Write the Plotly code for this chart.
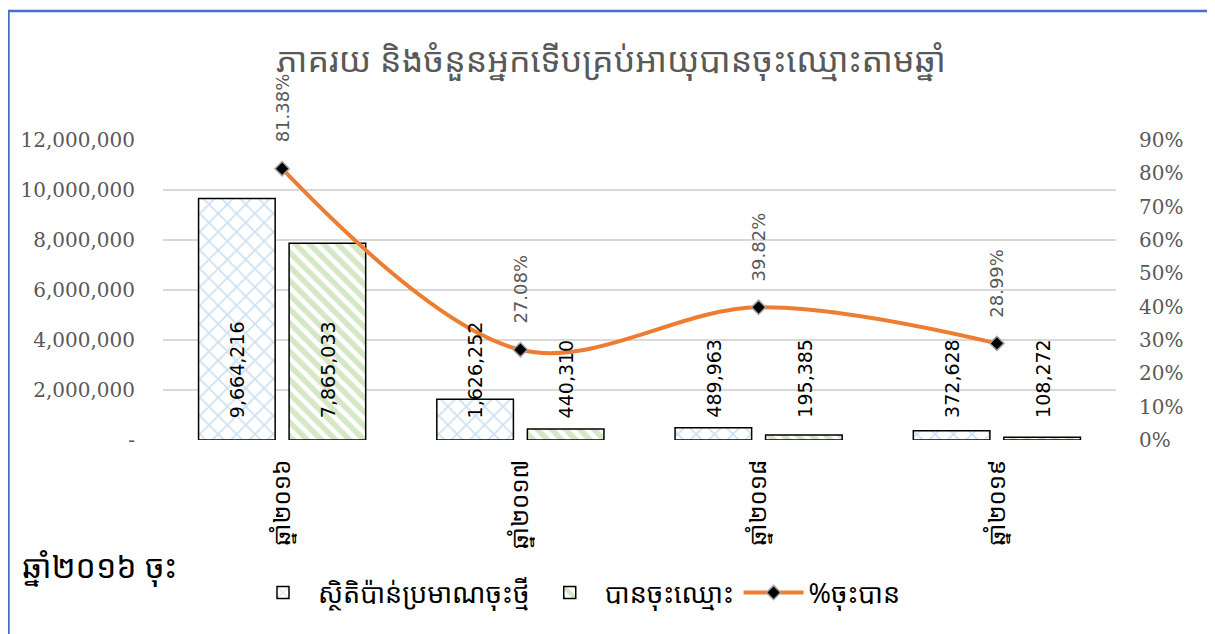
import plotly.graph_objects as go

years = ["ឆ្នាំ២០១៦", "ឆ្នាំ២០១៧", "ឆ្នាំ២០១៨", "ឆ្នាំ២០១៩"]
estimated = [9664216, 1626252, 489963, 372628]
registered = [7865033, 440310, 195385, 108272]
pct_registered = [81.38, 27.08, 39.82, 28.99]

left_ticks = [0, 2000000, 4000000, 6000000, 8000000, 10000000, 12000000]
left_tick_text = ["-", "2,000,000", "4,000,000", "6,000,000", "8,000,000", "10,000,000", "12,000,000"]
right_ticks = [0, 10, 20, 30, 40, 50, 60, 70, 80, 90]
right_tick_text = ["0%", "10%", "20%", "30%", "40%", "50%", "60%", "70%", "80%", "90%"]

title_text = "ភាគរយ និងចំនួនអ្នកទើបគ្រប់អាយុបានចុះឈ្មោះតាមឆ្នាំ"
names = ["ស្ថិតិប៉ាន់ប្រមាណចុះថ្មី", "បានចុះឈ្មោះ", "%ចុះបាន"]
side_note = "ឆ្នាំ២០១៦ ចុះ"

KHMER = "Noto Sans Khmer, Khmer OS, DejaVu Sans, sans-serif"
SERIF = "DejaVu Serif"
GRAY = "#595959"

# plot box in figure pixels (page body adds 8px offset)
L, T, W, H = 155, 132, 953, 300

fig = go.Figure()
fig.add_trace(go.Bar(
    x=years, y=estimated, name=names[0],
    marker=dict(color="white", line=dict(color="black", width=1.5),
                pattern=dict(shape="x", fgcolor="#9DC3E6", bgcolor="white", size=13, solidity=0.25)),
))
fig.add_trace(go.Bar(
    x=years, y=registered, name=names[1],
    marker=dict(color="white", line=dict(color="black", width=1.5),
                pattern=dict(shape="\\", fgcolor="#A9D18E", bgcolor="white", size=10, solidity=0.55)),
))
fig.add_trace(go.Scatter(
    x=years, y=pct_registered, name=names[2], yaxis="y2", mode="lines+markers",
    line=dict(color="#ED7D31", width=4, shape="spline", smoothing=1.0),
    marker=dict(symbol="diamond", size=11, color="black", line=dict(color="#A5A5A5", width=1.5)),
))

# bar value labels, rotated, sitting near the base of each bar
for i, yr in enumerate(years):
    for vals, shift in ((estimated, -45.5), (registered, 45.5)):
        fig.add_annotation(
            x=yr, y=0, xref="x", yref="y", text=f"{vals[i]:,}", textangle=-90,
            showarrow=False, xanchor="center", yanchor="bottom", xshift=shift, yshift=20,
            font=dict(family="DejaVu Sans", size=19, color="black"),
        )
    fig.add_annotation(
        x=yr, y=pct_registered[i], xref="x", yref="y2", text=f"{pct_registered[i]:.2f}%",
        textangle=-90, showarrow=False, xanchor="center", yanchor="bottom", yshift=24,
        font=dict(family="DejaVu Sans", size=18, color=GRAY),
    )

fig.add_annotation(
    x=(12 - L) / W, y=(T + H - 557) / H, xref="paper", yref="paper", text=side_note, showarrow=False,
    xanchor="left", yanchor="middle", font=dict(family=KHMER, size=32, color="black"),
)

# outer chart border
fig.add_shape(type="rect", xref="paper", yref="paper",
              x0=(0.5 - L) / W, x1=(1203 - L) / W, y0=(T + H - 640) / H, y1=(T + H - 3) / H,
              line=dict(color="#4472C4", width=2.5), fillcolor="rgba(0,0,0,0)", layer="below")

fig.update_layout(
    width=1215, height=634,
    margin=dict(l=L, r=1215 - L - W, t=T, b=634 - T - H),
    paper_bgcolor="white", plot_bgcolor="white",
    barmode="group", bargap=0.24, bargroupgap=0.154,
    title=dict(text=title_text, x=(611 - 8) / 1215, xref="container", xanchor="center",
               y=1 - 52 / 634, yanchor="middle",
               font=dict(family=KHMER, size=34, color=GRAY)),
    xaxis=dict(tickangle=-90, showgrid=False, showline=False,
               tickfont=dict(family=KHMER, size=24, color="black"), ticks="", ticklabelstandoff=14),
    yaxis=dict(range=[0, 12000000], tickvals=left_ticks, ticktext=left_tick_text,
               showgrid=True, gridcolor="#D9D9D9", gridwidth=1.5, zeroline=False,
               tickfont=dict(family=SERIF, size=20, color=GRAY), ticks="", ticklabelstandoff=27),
    yaxis2=dict(range=[0, 90], tickvals=right_ticks, ticktext=right_tick_text, overlaying="y", side="right",
                showgrid=False, zeroline=False,
                tickfont=dict(family=SERIF, size=20, color=GRAY), ticks="", ticklabelstandoff=22),
    legend=dict(orientation="h", x=(240 - L) / W, y=(T + H - 585) / H, xanchor="left", yanchor="middle",
                font=dict(family=KHMER, size=27, color="black"), itemwidth=60,
                bgcolor="rgba(0,0,0,0)"),
    showlegend=True,
)

fig.write_html("out.html")
